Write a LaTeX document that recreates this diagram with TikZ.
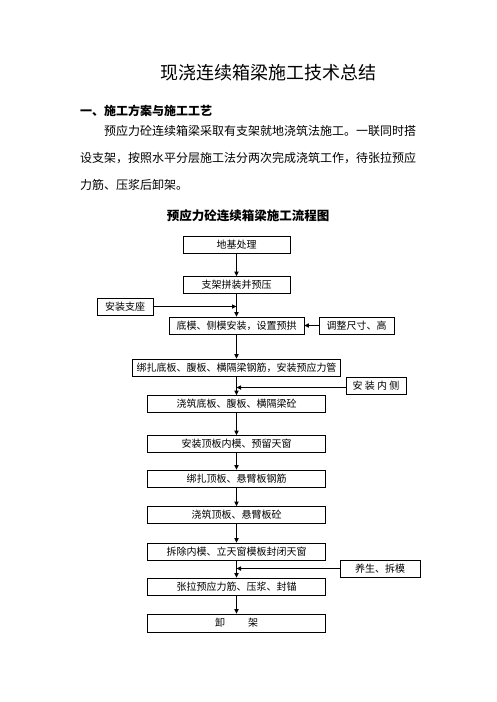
\documentclass[tikz,border=0pt]{standalone}
\usepackage{fontspec}
\setmainfont{Noto Sans CJK SC}
\usetikzlibrary{arrows.meta,positioning,calc}

\begin{document}
\begin{tikzpicture}[x=1pt, y=-1pt,
    box/.style={draw, line width=0.8pt, minimum height=17pt, inner sep=0pt,
        font=\fontsize{10}{10}\selectfont},
    txt/.style={inner sep=0pt, anchor=west, font=\fontsize{12}{12}\selectfont},
    arr/.style={-{Triangle[length=4.5pt,width=4.2pt]}, line width=1pt}]
    \useasboundingbox (0,0) rectangle (496,702);
    % Title and text
    \node [inner sep=0pt, font=\fontsize{18}{18}\selectfont] (title) at (268,72.5) {现浇连续箱梁施工技术总结};
    \node [txt, font=\fontsize{12}{12}\selectfont\bfseries] (head) at (80,111) {一、施工方案与施工工艺};
    \node [txt] (line1) at (104,131) {预应力砼连续箱梁采取有支架就地浇筑法施工。一联同时搭};
    \node [txt] (line2) at (80,158) {设支架，按照水平分层施工法分两次完成浇筑工作，待张拉预应};
    \node [txt] (line3) at (80,185) {力筋、压浆后卸架。};
    \node [inner sep=0pt, font=\fontsize{12.5}{12.5}\selectfont\bfseries] (flow) at (248,216) {预应力砼连续箱梁施工流程图};

    % Boxes
    \node [box, minimum width=107pt] (dj) at (236.5,244.5) {地基处理};
    \node [box, minimum width=107pt] (zj) at (236.5,285) {支架拼装并预压};
    \node [box, minimum width=56pt] (zz) at (125,306.5) {安装支座};
    \node [box, minimum width=135pt] (dm) at (236.5,325.5) {底模、侧模安装，设置预拱};
    \node [box, minimum width=75pt] (tz) at (356.5,325.5) {调整尺寸、高};
    \node [box, minimum width=208pt] (bz) at (236.5,367.5) {绑扎底板、腹板、横隔梁钢筋，安装预应力管};
    \node [box, minimum width=60pt] (nc) at (376,385.5) {安 装 内 侧};
    \node [box, minimum width=178pt] (jzd) at (236.5,404) {浇筑底板、腹板、横隔梁砼};
    \node [box, minimum width=178pt] (dbm) at (236.5,444) {安装顶板内模、预留天窗};
    \node [box, minimum width=178pt] (bzd) at (236.5,478.5) {绑扎顶板、悬臂板钢筋};
    \node [box, minimum width=178pt] (jzb) at (236.5,515) {浇筑顶板、悬臂板砼};
    \node [box, minimum width=178pt] (cc) at (236.5,551.5) {拆除内模、立天窗模板封闭天窗};
    \node [box, minimum width=80pt] (ys) at (380,568.5) {养生、拆模};
    \node [box, minimum width=178pt] (zl) at (236.5,586.5) {张拉预应力筋、压浆、封锚};
    \node [box, minimum width=178pt, minimum height=18pt] (xj) at (236.5,623) {卸\hspace{23pt}架};

    % Arrows
    \draw [arr] (dj) -- (zj);
    \draw [arr] (zj) -- (dm);
    \draw [arr] (dm) -- (bz);
    \draw [arr] (bz) -- (jzd);
    \draw [arr] (jzd) -- (dbm);
    \draw [arr] (dbm) -- (bzd);
    \draw [arr] (bzd) -- (jzb);
    \draw [arr] (jzb) -- (cc);
    \draw [arr] (cc) -- (zl);
    \draw [arr] (zl) -- (xj);
    % Side inputs
    \draw [arr] (zz.east) -- (zz.east -| zj.south);
    \draw [arr] (tz.west) -- (dm.east);
    \draw [arr] ([yshift=-2pt]nc.west) -- ([yshift=-2pt]nc.west -| bz.south);
    \draw [arr] (ys.west) -- (ys.west -| cc.south);
\end{tikzpicture}
\end{document}
